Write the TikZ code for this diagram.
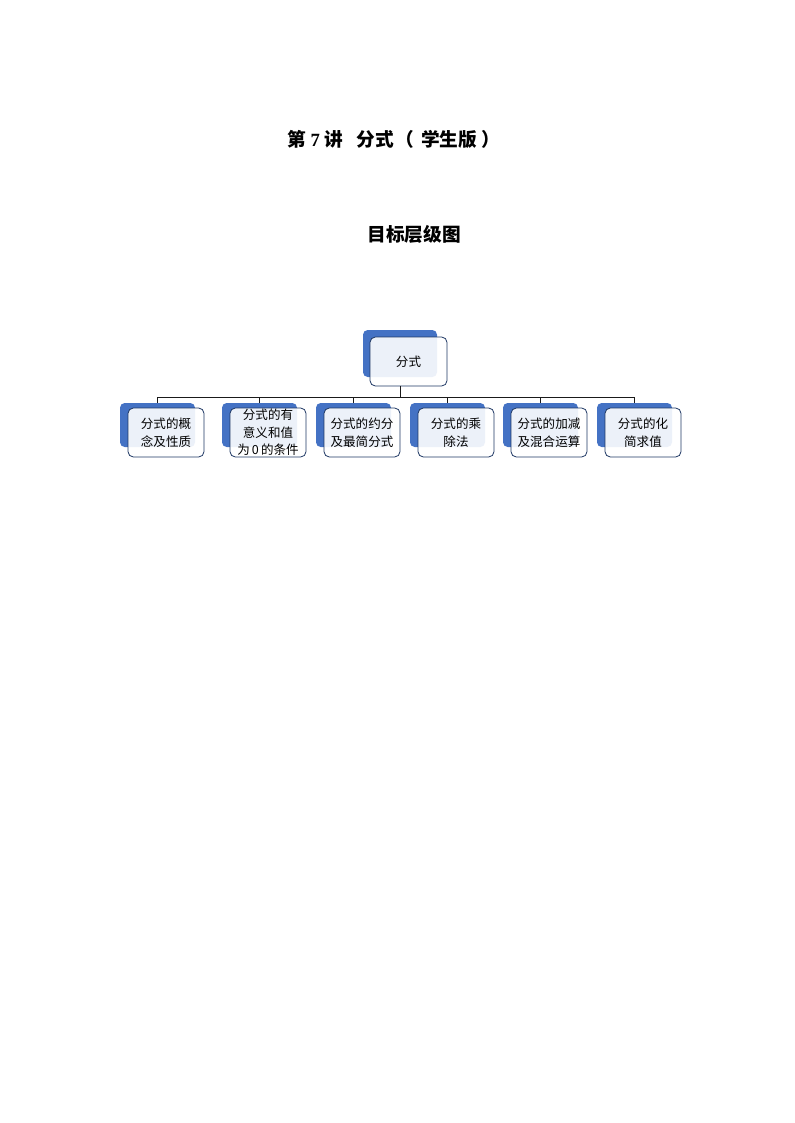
\documentclass[tikz,border=0pt]{standalone}
\usepackage{fontspec}
\setmainfont{Noto Sans CJK SC}
\newfontfamily\serifnum{Liberation Serif}
\definecolor{smblue}{HTML}{4472C4}
\definecolor{smborder}{HTML}{1F3864}
\definecolor{connclr}{HTML}{1A1A1A}
\begin{document}
\begin{tikzpicture}[x=0.75pt,y=-0.75pt,
  back/.style={fill=smblue, draw=none, rounded corners=3.5pt, inner sep=0pt,
    minimum width=56.25pt, minimum height=33pt},
  front/.style={draw=smborder, line width=0.6pt, fill=white, fill opacity=0.9,
    text opacity=1, rounded corners=4pt, inner sep=0pt, align=center,
    minimum width=57pt, minimum height=36.75pt,
    font=\fontsize{9.4pt}{13.1pt}\selectfont},
  conn/.style={draw=connclr, line width=0.6pt},
  titletext/.style={inner sep=0pt, font=\fontsize{14pt}{16pt}\selectfont\bfseries}]
\useasboundingbox (0,0) rectangle (794,1123);

% titles
\node[titletext, anchor=west] (title) at (287,139.5)
  {第\hspace{3.5pt}{\serifnum\bfseries 7}\hspace{3.5pt}讲\hspace{10pt}分式\hspace{1.5pt}（\hspace{5pt}学生版\hspace{3pt}）};
\node[titletext] (subtitle) at (414,234.5) {目标层级图};

% root
\node[back, minimum width=55.5pt, minimum height=35.25pt] (rootb) at (400,353.5) {};
\node[front, minimum width=57.75pt] (root) at (408.5,361.5) {分式};

% children
\node[back] (c1b) at (157.5,425) {};
\node[front] (c1) at (166,432.5) {分式的概\\念及性质};
\node[back] (c2b) at (259.5,425) {};
\node[front] (c2) at (268,432.5) {分式的有\\意义和值\\为\,0\,的条件};
\node[back] (c3b) at (353.5,425) {};
\node[front] (c3) at (362,432.5) {分式的约分\\及最简分式};
\node[back] (c4b) at (447.5,425) {};
\node[front] (c4) at (456,432.5) {分式的乘\\除法};
\node[back] (c5b) at (540.5,425) {};
\node[front] (c5) at (549,432.5) {分式的加减\\及混合运算};
\node[back] (c6b) at (634.5,425) {};
\node[front] (c6) at (643,432.5) {分式的化\\简求值};

% connectors
\coordinate (bus) at (400,397);
\draw[conn] (rootb.south |- root.south) -- (bus);
\foreach \c in {c1b,c2b,c3b,c4b,c5b,c6b}
  \draw[conn] (bus) -| (\c.north);
\end{tikzpicture}
\end{document}
